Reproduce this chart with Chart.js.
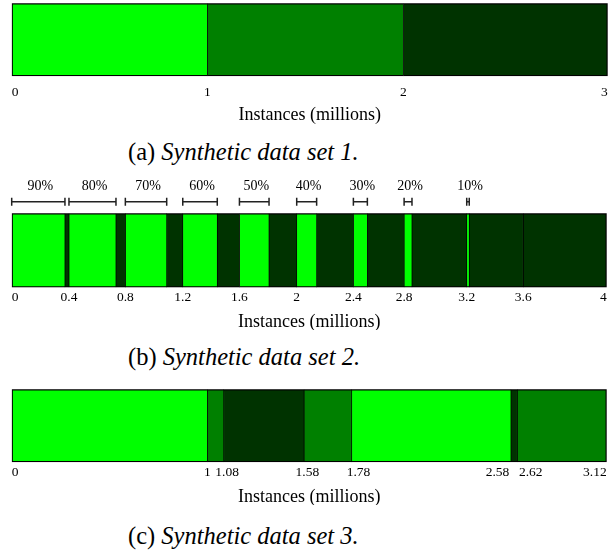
<!DOCTYPE html>
<html>
<head>
<meta charset="utf-8">
<script src="https://cdn.jsdelivr.net/npm/chart.js@4.4.1/dist/chart.umd.min.js"></script>
<style>
  body { margin: 0; background: #fff; width: 610px; height: 556px; position: relative; overflow: hidden; font-family: 'Liberation Serif', serif; }
  canvas { position: absolute; left: 0; }
  .cap { position: absolute; left: 128px; font-size: 24.5px; line-height: 30px; white-space: nowrap; color: #000; }
</style>
</head>
<body>
<canvas id="set1" width="610" height="125" style="top:0px"></canvas>
<div class="cap" style="top:137px">(a) <i>Synthetic data set 1.</i></div>
<canvas id="set2" width="610" height="160" style="top:170px"></canvas>
<div class="cap" style="top:342px">(b) <i>Synthetic data set 2.</i></div>
<canvas id="set3" width="610" height="125" style="top:380px"></canvas>
<div class="cap" style="top:521px">(c) <i>Synthetic data set 3.</i></div>

<script>
const BRIGHT = '#00ff00', MID = '#008000', DARK = '#003300';
const shades = { bright: BRIGHT, mid: MID, dark: DARK };
const serif = "'Liberation Serif', 'DejaVu Serif', serif";

// data set 1 - segment edges where they sit on the drawn axis (millions)
const set1Edges = [0, 0.985, 1.972, 3];
const set1Shade = ['bright', 'mid', 'dark'];
const set1Ticks = ['0', '1', '2', '3'];

// data set 2 - ten blocks, each starts with a bright part
const set2BlockEdges = [0, 0.385, 0.764, 1.150, 1.531, 1.916, 2.297, 2.638, 3.059, 3.439, 4];
const set2BrightEnd = [0.358, 0.701, 1.042, 1.382, 1.730, 2.050, 2.391, 2.691, 3.076];
const set2Share = ['90%', '80%', '70%', '60%', '50%', '40%', '30%', '20%', '10%'];
const set2Ticks = ['0', '0.4', '0.8', '1.2', '1.6', '2', '2.4', '2.8', '3.2', '3.6', '4'];

// data set 3
const set3Edges = [0, 1.026, 1.112, 1.533, 1.783, 2.618, 2.651, 3.12];
const set3Shade = ['bright', 'mid', 'dark', 'mid', 'bright', 'dark', 'mid'];
const set3Ticks = ['0', '1', '1.08', '1.58', '1.78', '2.58', '2.62', '3.12'];
// label nudges (in spaces) so that close labels don't collide
const set3Nudge = [0, 0, 2, 2, 4, -8, 8, 0];

function pad(txt, n) {
    const sp = ' '.repeat(Math.abs(n));
    return n > 0 ? sp + txt : txt + sp;
}

function segsFromEdges(edges, shade) {
    return shade.map((s, i) => ({ from: edges[i], to: edges[i + 1], color: shades[s] }));
}

function set2Segments() {
    const segs = [];
    for (let i = 0; i < set2BlockEdges.length - 1; i++) {
        const start = set2BlockEdges[i], next = set2BlockEdges[i + 1];
        if (i < set2BrightEnd.length) {
            segs.push({ from: start, to: set2BrightEnd[i], color: BRIGHT });
            segs.push({ from: set2BrightEnd[i], to: next, color: DARK });
        } else {
            segs.push({ from: start, to: next, color: DARK });
        }
    }
    return segs;
}

const shareBrackets = {
    id: 'shareBrackets',
    afterDraw(chart) {
        const { ctx, chartArea, scales: { x } } = chart;
        const y = chartArea.top - 11.6;
        ctx.save();
        ctx.strokeStyle = '#222';
        ctx.lineWidth = 1.5;
        ctx.fillStyle = '#000';
        ctx.font = '14px ' + serif;
        ctx.textAlign = 'center';
        ctx.textBaseline = 'middle';
        set2Share.forEach((txt, i) => {
            const x0 = x.getPixelForValue(set2BlockEdges[i]);
            const x1 = x.getPixelForValue(set2BrightEnd[i]);
            ctx.beginPath();
            ctx.moveTo(x0, y); ctx.lineTo(x1, y);
            ctx.moveTo(x0, y - 4); ctx.lineTo(x0, y + 4);
            ctx.moveTo(x1, y - 4); ctx.lineTo(x1, y + 4);
            ctx.stroke();
            ctx.fillText(txt, (x0 + x1) / 2 + 2, y - 15);
        });
        ctx.restore();
    }
};

function makeStrip(id, segs, tickAt, tickText, max, cfg) {
    const last = segs.length - 1;
    return new Chart(document.getElementById(id), {
        type: 'bar',
        data: {
            labels: [''],
            datasets: segs.map((s, i) => ({
                data: [[s.from, s.to]],
                backgroundColor: s.color,
                borderColor: '#000',
                borderWidth: { top: 1.5, bottom: 1.5, left: i === 0 ? 1.5 : 0.7, right: i === last ? 1.5 : 0.7 },
                borderSkipped: false,
                barPercentage: 1,
                categoryPercentage: 1,
                grouped: false
            }))
        },
        options: {
            indexAxis: 'y',
            responsive: false,
            animation: false,
            layout: { padding: cfg.padding },
            plugins: { legend: { display: false }, tooltip: { enabled: false } },
            scales: {
                y: { display: false },
                x: {
                    type: 'linear',
                    min: 0,
                    max: max,
                    afterBuildTicks: scale => { scale.ticks = tickAt.map(v => ({ value: v })); },
                    grid: { display: false, drawTicks: true, tickLength: cfg.tickGap },
                    border: { display: false },
                    ticks: {
                        autoSkip: false,
                        align: 'inner',
                        padding: 2,
                        maxRotation: 0,
                        color: '#000',
                        font: { family: serif, size: 13.5, lineHeight: 1 },
                        callback: (v, i) => cfg.label ? cfg.label(i) : tickText[i]
                    },
                    title: {
                        display: true,
                        text: 'Instances (millions)',
                        color: '#000',
                        font: { family: serif, size: 18, lineHeight: '12px' },
                        padding: { top: cfg.titleGap, bottom: 0 }
                    }
                }
            }
        },
        plugins: cfg.plugins || []
    });
}

makeStrip('set1', segsFromEdges(set1Edges, set1Shade), set1Edges, set1Ticks, 3, {
    padding: { top: 3.3, left: 11.7, right: 2.3, bottom: 3.5 },
    tickGap: 7.8, titleGap: 8
});

makeStrip('set2', set2Segments(), set2BlockEdges, set2Ticks, 4, {
    padding: { top: 43.3, left: 11.7, right: 3.3, bottom: 2.2 },
    tickGap: 1.5, titleGap: 9.3,
    plugins: [shareBrackets]
});

makeStrip('set3', segsFromEdges(set3Edges, set3Shade), set3Edges, set3Ticks, 3.12, {
    padding: { top: 9.3, left: 11.7, right: 3.3, bottom: 1.5 },
    tickGap: 1.8, titleGap: 10,
    label: i => pad(set3Ticks[i], set3Nudge[i])
});
</script>
</body>
</html>
